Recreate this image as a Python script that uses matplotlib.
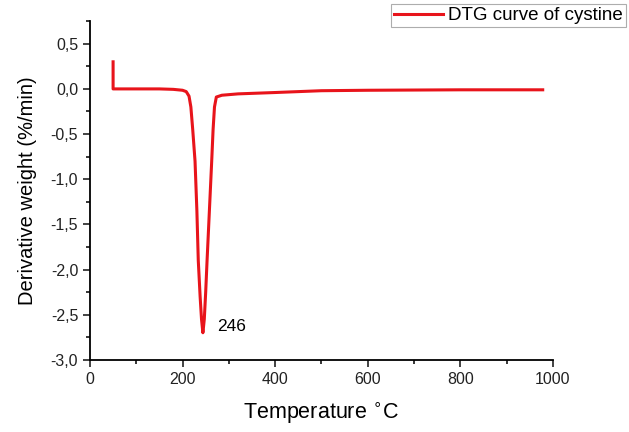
import matplotlib.pyplot as plt
from matplotlib.ticker import MultipleLocator, FuncFormatter

plt.rcParams['font.family'] = ['Liberation Sans', 'DejaVu Sans']

# DTG curve
temp = [50, 50, 60, 100, 150, 180, 200, 208, 214, 218, 222, 227, 231, 234, 238, 241, 244,
        247, 250, 253, 258, 263, 266, 269, 273, 285, 320, 400, 500, 600, 800, 978]
dtg = [0.30, 0.0, 0.0, 0.0, 0.0, -0.005, -0.015, -0.03, -0.08, -0.2, -0.45, -0.8, -1.35, -1.9,
       -2.3, -2.55, -2.7, -2.55, -2.25, -1.9, -1.35, -0.8, -0.45, -0.2, -0.09, -0.07, -0.055,
       -0.04, -0.02, -0.015, -0.01, -0.01]
peak_t, peak_v = 246, -2.7

fig = plt.figure(figsize=(6.29, 4.32), dpi=100)
ax = fig.add_axes([0.143, 0.167, 0.736, 0.784])

ax.plot(temp, dtg, color='#e8141b', lw=2.2, label='DTG curve of cystine')
ax.text(peak_t + 28, peak_v + 0.07, str(peak_t), fontsize=12.5, va='center', ha='left')

ax.set_xlim(0, 1000)
ax.set_ylim(-3.0, 0.75)
ax.xaxis.set_major_locator(MultipleLocator(200))
ax.xaxis.set_minor_locator(MultipleLocator(100))
ax.yaxis.set_major_locator(MultipleLocator(0.5))
ax.yaxis.set_minor_locator(MultipleLocator(0.25))
ax.yaxis.set_major_formatter(FuncFormatter(lambda v, p: ('%.1f' % v).replace('.', ',')))

for s in ['top', 'right']:
    ax.spines[s].set_visible(False)
for s in ['left', 'bottom']:
    ax.spines[s].set_linewidth(1.3)
ax.tick_params(which='major', length=5, width=1.2, labelsize=11.5, colors='#222222')
ax.tick_params(which='minor', length=3, width=1.1)

ax.set_xlabel(r'Temperature $^{\circ}$C', fontsize=15.5, labelpad=10)
ax.set_ylabel('Derivative weight (%/min)', fontsize=14.5, labelpad=10)

leg = fig.legend(loc='upper right', bbox_to_anchor=(0.995, 0.99), fontsize=13.5,
                 fancybox=False, edgecolor='#999999', handlelength=2.6,
                 borderpad=0.15, handletextpad=0.3, borderaxespad=0)
leg.get_frame().set_linewidth(0.8)

plt.savefig('out.png', dpi=100)
